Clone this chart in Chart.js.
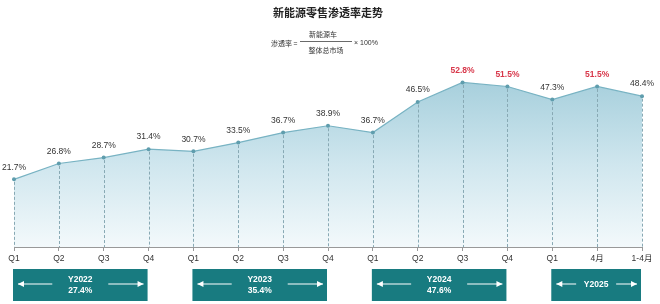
<!DOCTYPE html>
<html><head><meta charset="utf-8">
<script src="https://cdn.jsdelivr.net/npm/chart.js@4/dist/chart.umd.min.js"></script>
<style>html,body{margin:0;padding:0;background:#fff}#wrap{width:660px;height:304px;position:relative}</style>
</head><body><div id="wrap"><canvas id="c" width="660" height="304"></canvas></div>
<script>
const categories = ["Q1","Q2","Q3","Q4","Q1","Q2","Q3","Q4","Q1","Q2","Q3","Q4","Q1","4月","1-4月"];
const penetration = [21.7,26.8,28.7,31.4,30.7,33.5,36.7,38.9,36.7,46.5,52.8,51.5,47.3,51.5,48.4];
const highlighted = [false,false,false,false,false,false,false,false,false,false,true,true,false,true,false];
const yearLabels = ["Y2022","Y2023","Y2024","Y2025"];
const yearRates = ["27.4%","35.4%","47.6%",""];
const yearStart = [0,4,8,12];
const yearEnd = [3,7,11,14];

const FONT = '"Liberation Sans","Noto Sans CJK SC",Arial,sans-serif';

const overlay = {
  id: 'overlay',
  afterDatasetsDraw(chart) {
    const ctx = chart.ctx, meta = chart.getDatasetMeta(0), yb = chart.scales.y.getPixelForValue(0);
    ctx.save();
    ctx.strokeStyle = '#88a9b4'; ctx.lineWidth = 1; ctx.setLineDash([3,2]);
    meta.data.forEach(p => { ctx.beginPath(); ctx.moveTo(Math.round(p.x)+0.5, p.y + 2.5); ctx.lineTo(Math.round(p.x)+0.5, yb); ctx.stroke(); });
    ctx.restore();
  },
  afterDraw(chart) {
    const ctx = chart.ctx, meta = chart.getDatasetMeta(0), xs = chart.scales.x;
    ctx.save();
    // title
    ctx.fillStyle = '#222'; ctx.textAlign = 'center'; ctx.textBaseline = 'middle';
    ctx.font = 'bold 11px "Noto Sans CJK SC",sans-serif';
    ctx.fillText('新能源零售渗透率走势', 328, 13);
    ctx.font = '7px "Noto Sans CJK SC",sans-serif'; ctx.fillStyle = '#333';
    ctx.textAlign = 'left'; ctx.fillText('渗透率 =', 271, 43);
    ctx.textAlign = 'center';
    ctx.fillText('新能源车', 323, 34);
    ctx.fillText('整体总市场', 326, 50);
    ctx.beginPath(); ctx.strokeStyle = '#444'; ctx.lineWidth = 0.8; ctx.moveTo(300, 41.5); ctx.lineTo(352, 41.5); ctx.stroke();
    ctx.textAlign = 'left'; ctx.font = '7px ' + FONT; ctx.fillText('× 100%', 354, 43);
    // data labels
    ctx.textAlign = 'center'; ctx.textBaseline = 'middle';
    meta.data.forEach((p, i) => {
      if (highlighted[i]) { ctx.font = 'bold 8.5px ' + FONT; ctx.fillStyle = '#d8374a'; }
      else { ctx.font = '8.5px ' + FONT; ctx.fillStyle = '#333'; }
      ctx.fillText(penetration[i].toFixed(1) + '%', p.x, p.y - 12);
    });
    // year boxes
    yearLabels.forEach((lab, k) => {
      const x0 = xs.getPixelForValue(yearStart[k]) - 1, x1 = xs.getPixelForValue(yearEnd[k]) - 1;
      const y0 = 269, y1 = 301, cx = (x0 + x1) / 2, cy = (y0 + y1) / 2;
      ctx.fillStyle = '#187b80'; ctx.fillRect(x0, y0, x1 - x0, y1 - y0);
      ctx.fillStyle = '#fff'; ctx.strokeStyle = '#fff'; ctx.lineWidth = 1.2;
      ctx.font = 'bold 8.5px ' + FONT;
      if (yearRates[k]) { ctx.fillText(lab, cx, cy - 5.5); ctx.fillText(yearRates[k], cx, cy + 5.5); }
      else ctx.fillText(lab, cx, cy);
      const gap = yearRates[k] ? 28 : 20, ay = cy - 1;
      const la = x0 + 5, lb = cx - gap, ra = cx + gap, rb = x1 - 4;
      ctx.beginPath(); ctx.moveTo(la, ay); ctx.lineTo(lb, ay); ctx.moveTo(ra, ay); ctx.lineTo(rb, ay); ctx.stroke();
      ctx.beginPath(); ctx.moveTo(la, ay); ctx.lineTo(la + 6, ay - 3); ctx.lineTo(la + 6, ay + 3); ctx.closePath(); ctx.fill();
      ctx.beginPath(); ctx.moveTo(rb, ay); ctx.lineTo(rb - 6, ay - 3); ctx.lineTo(rb - 6, ay + 3); ctx.closePath(); ctx.fill();
    });
    ctx.restore();
  }
};

new Chart(document.getElementById('c'), {
  type: 'line',
  data: {
    labels: categories,
    datasets: [{
      data: penetration,
      borderColor: '#78b3c3',
      borderWidth: 1.2,
      pointRadius: 2,
      pointBackgroundColor: '#5f9dad',
      pointBorderColor: '#5f9dad',
      pointBorderWidth: 0,
      tension: 0,
      fill: 'origin',
      backgroundColor(c) {
        const a = c.chart.chartArea;
        if (!a) return 'rgba(160,205,220,0.6)';
        const g = c.chart.ctx.createLinearGradient(0, a.top + 20, 0, a.bottom);
        g.addColorStop(0, '#a6cfdc');
        g.addColorStop(0.5, '#cfe6ee');
        g.addColorStop(1, '#f3f9fb');
        return g;
      }
    }]
  },
  options: {
    responsive: false,
    animation: false,
    devicePixelRatio: 1,
    layout: { padding: { top: 60, left: 14, right: 18, bottom: 0 } },
    plugins: { legend: { display: false }, tooltip: { enabled: false }, title: { display: false } },
    scales: {
      x: {
        offset: false,
        grid: { display: true, drawOnChartArea: false, drawTicks: true, tickLength: 4, color: '#999' },
        border: { display: true, color: '#999', width: 1 },
        ticks: { font: { size: 8.5, family: FONT }, color: '#333', padding: 3, maxRotation: 0, autoSkip: false },
        afterFit(s) { s.height = 57; }
      },
      y: { display: false, min: 0, max: 60 }
    }
  },
  plugins: [overlay]
});
</script></body></html>
